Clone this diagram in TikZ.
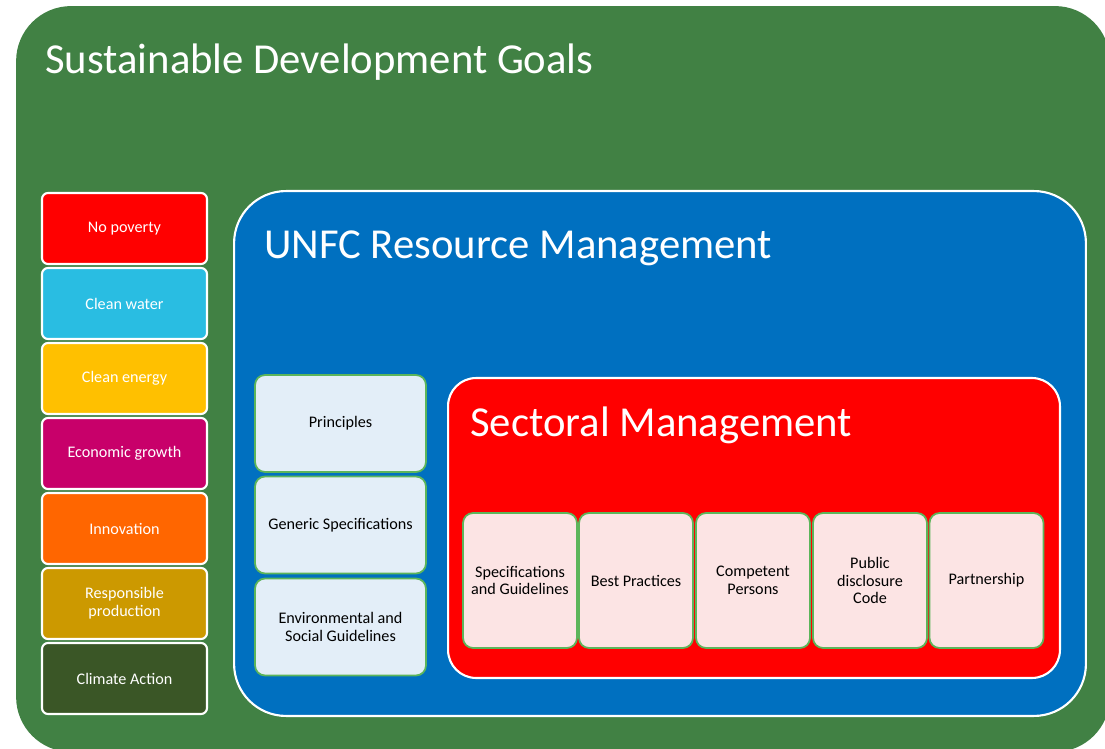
\documentclass[tikz,border=0pt]{standalone}
\usepackage{fontspec}
\setmainfont{Carlito}
\usepackage{xcolor}
\usepackage{tikz}

\definecolor{sdggreen}{HTML}{418144}
\definecolor{unfcblue}{HTML}{0070C0}
\definecolor{boxline}{HTML}{5CB55A}
\definecolor{lightblue}{HTML}{E3EEF8}
\definecolor{lightpink}{HTML}{FCE4E4}
\definecolor{waterblue}{HTML}{29BDE2}
\definecolor{energyyellow}{HTML}{FFC000}
\definecolor{growthmagenta}{HTML}{C8006A}
\definecolor{innovorange}{HTML}{FF6600}
\definecolor{prodgold}{HTML}{CC9900}
\definecolor{climategreen}{HTML}{3A5626}

\begin{document}
\begin{tikzpicture}[x=0.02cm, y=-0.02cm,
        goal/.style={rectangle, rounded corners=0.12cm, draw=white, line width=1.2pt, minimum width=3.3cm, minimum height=1.42cm, align=center, text=white, font=\fontsize{9.2}{10.2}\selectfont},
        pillar/.style={rectangle, rounded corners=0.2cm, draw=boxline, line width=1pt, fill=lightblue, minimum width=3.42cm, minimum height=1.94cm, align=center, font=\fontsize{9.2}{10}\selectfont},
        sector/.style={rectangle, rounded corners=0.2cm, draw=boxline, line width=1pt, fill=lightpink, minimum width=2.28cm, minimum height=2.7cm, align=center, font=\fontsize{9.2}{10}\selectfont},
        title/.style={anchor=base west, text=white, inner sep=0pt}
    ]
        \clip (0,0) rectangle (1105,749);

        % outer frame
        \node[rectangle, rounded corners=1.1cm, fill=sdggreen, minimum width=21.88cm, minimum height=14.92cm] (sdg) at (563,379) {};
        \node[title, font=\fontsize{24.3}{29}\selectfont] (sdgtitle) at (45,74) {Sustainable Development Goals};

        % goals column
        \node[goal, fill=red] (nopoverty) at (124.5,228.5) {No poverty};
        \node[goal, fill=waterblue] (water) at (124.5,303.5) {Clean water};
        \node[goal, fill=energyyellow] (energy) at (124.5,378.5) {Clean energy};
        \node[goal, fill=growthmagenta] (growth) at (124.5,453.5) {Economic growth};
        \node[goal, fill=innovorange] (innovation) at (124.5,528.5) {Innovation};
        \node[goal, fill=prodgold] (production) at (124.5,603.5) {Responsible\\production};
        \node[goal, fill=climategreen] (climate) at (124.5,678.5) {Climate Action};

        % UNFC block
        \node[rectangle, rounded corners=1.04cm, draw=white, line width=1.2pt, fill=unfcblue, minimum width=17.04cm, minimum height=10.5cm] (unfc) at (660,453.5) {};
        \node[title, font=\fontsize{24.3}{29}\selectfont] (unfctitle) at (264,259) {UNFC Resource Management};

        \node[pillar] (principles) at (340.5,423.5) {Principles};
        \node[pillar] (generic) at (340.5,525) {Generic Specifications};
        \node[pillar] (envsocial) at (340.5,627) {Environmental and\\Social Guidelines};

        % sectoral block
        \node[rectangle, rounded corners=0.56cm, draw=white, line width=1.2pt, fill=red, minimum width=12.24cm, minimum height=6cm] (sectoral) at (754,528) {};
        \node[title, font=\fontsize{24.3}{29}\selectfont] (sectitle) at (470,437) {Sectoral Management};

        \node[sector] (specs) at (520,580.5) {Specifications\\and Guidelines};
        \node[sector] (practices) at (636,580.5) {Best Practices};
        \node[sector] (competent) at (753,580.5) {Competent\\Persons};
        \node[sector] (disclosure) at (870,580.5) {Public\\disclosure\\Code};
        \node[sector] (partnership) at (986.5,580.5) {Partnership};
    \end{tikzpicture}
\end{document}
